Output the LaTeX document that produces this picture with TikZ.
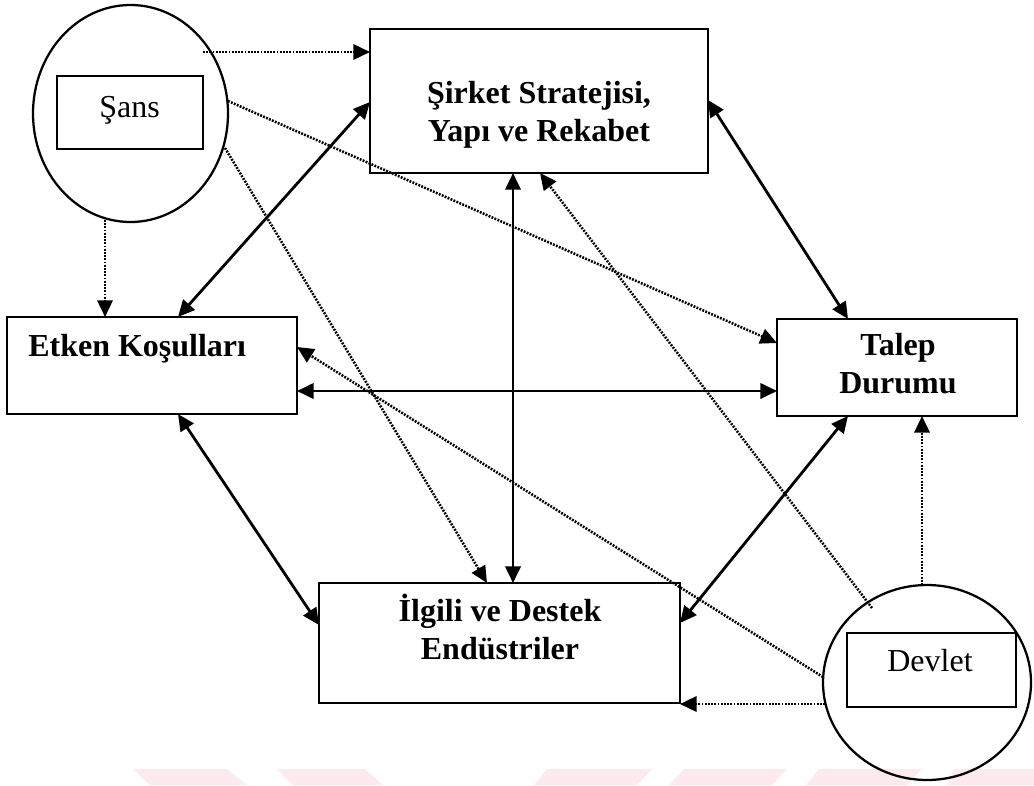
\documentclass[tikz,border=0pt]{standalone}
\usepackage{fontspec}
\setmainfont{Liberation Serif}
\usetikzlibrary{arrows.meta,shapes.geometric,calc}
\definecolor{wm}{RGB}{253,234,238}
\begin{document}
\begin{tikzpicture}[x=0.75pt,y=-0.75pt,
  box/.style={draw, line width=1.9pt, inner sep=0pt, outer sep=0pt, rectangle},
  ibox/.style={draw, line width=1.4pt, inner sep=0pt, outer sep=0pt, rectangle},
  circ/.style={draw, line width=1.7pt, inner sep=0pt, outer sep=0pt, ellipse},
  blbl/.style={inner sep=0pt, align=center, font=\fontsize{24}{28.5}\selectfont\bfseries},
  rlbl/.style={inner sep=0pt, font=\fontsize{24}{28.5}\selectfont},
  tip/.tip={Triangle[length=12.5pt,width=11.5pt]},
  sol/.style={line width=2.1pt, tip-tip},
  dotarr/.style={line width=1.9pt, dash pattern=on 1.4pt off 1pt, -tip}]
\useasboundingbox (0,0) rectangle (1034,785);
% watermark
\fill[wm] (133,769) -- (227,769) -- (247,785) -- (150,785) -- cycle;
\fill[wm] (277,769) -- (365,769) -- (383,785) -- (293,785) -- cycle;
\fill[wm] (547,769) -- (652,769) -- (637,785) -- (534,785) -- cycle;
\fill[wm] (684,769) -- (787,769) -- (772,785) -- (669,785) -- cycle;
\fill[wm] (819,769) -- (922,769) -- (907,785) -- (806,785) -- cycle;
\fill[wm] (954,769) -- (1034,769) -- (1034,785) -- (947,785) -- cycle;
% nodes
\node[box, minimum width=253.5pt, minimum height=108pt] (sir) at (539,101) {};
\node[box, minimum width=217.5pt, minimum height=72.75pt] (etk) at (152,365.5) {};
\node[box, minimum width=180pt, minimum height=72.75pt] (tal) at (897,367.5) {};
\node[box, minimum width=270.75pt, minimum height=90pt] (ilg) at (499.5,643) {};
\node[circ, minimum width=146.25pt, minimum height=162.75pt] (sans) at (130.5,113.5) {};
\node[ibox, minimum width=109.5pt, minimum height=54.75pt] (sansbox) at (130,112.5) {};
\node[circ, minimum width=156pt, minimum height=146.25pt] (dev) at (927,682.5) {};
\node[ibox, minimum width=126.75pt, minimum height=55.5pt] (devbox) at (931.5,670) {};
% texts (base = baseline of last line)
\node[blbl, anchor=base] (sirT) at (539,141) {Şirket Stratejisi,\\Yapı ve Rekabet};
\node[blbl, anchor=base west] (etkT) at (28,356) {Etken Koşulları};
\node[blbl, anchor=base] (talT) at (898,393) {Talep\\Durumu};
\node[blbl, anchor=base] (ilgT) at (500,659) {İlgili ve Destek\\Endüstriler};
\node[rlbl, anchor=base] (sansT) at (129.5,117) {Şans};
\node[rlbl, anchor=base] (devT) at (930,671) {Devlet};
% solid double arrows
\draw[sol] ($(sir.center)+(-169,1)$) -- ($(etk.center)+(26,-48.5)$);
\draw[sol] ($(sir.center)+(169,-1)$) -- ($(tal.center)+(-49,-48.5)$);
\draw[sol] ($(sir.center)+(-26,72)$) -- ($(ilg.center)+(13.5,-60)$);
\draw[sol] ($(etk.center)+(145,25.5)$) -- ($(tal.center)+(-120,23.5)$);
\draw[sol] ($(etk.center)+(26,48.5)$) -- ($(ilg.center)+(-180.5,-18)$);
\draw[sol] ($(tal.center)+(-49,48.5)$) -- ($(ilg.center)+(180.5,-20)$);
% dotted arrows from Şans
\draw[dotarr] ($(sans.center)+(72.5,-61.5)$) -- ($(sir.center)+(-169,-49)$);
\draw[dotarr] ($(sans.center)+(97.5,-12.5)$) -- ($(tal.center)+(-120,-24.5)$);
\draw[dotarr] ($(sans.center)+(94.5,34.5)$) -- ($(ilg.center)+(-12.5,-60)$);
\draw[dotarr] ($(sans.center)+(-25.5,106.5)$) -- ($(etk.center)+(-47,-48.5)$);
% dotted arrows from Devlet
\draw[dotarr] ($(dev.center)+(-55,-74.5)$) -- ($(sir.center)+(1,72)$);
\draw[dotarr] ($(dev.center)+(-104,-5.5)$) -- ($(etk.center)+(145,-18.5)$);
\draw[dotarr] ($(dev.center)+(-5,-97.5)$) -- ($(tal.center)+(25,48.5)$);
\draw[dotarr] ($(dev.center)+(-102,21.5)$) -- ($(ilg.center)+(180.5,61)$);
\end{tikzpicture}
\end{document}
